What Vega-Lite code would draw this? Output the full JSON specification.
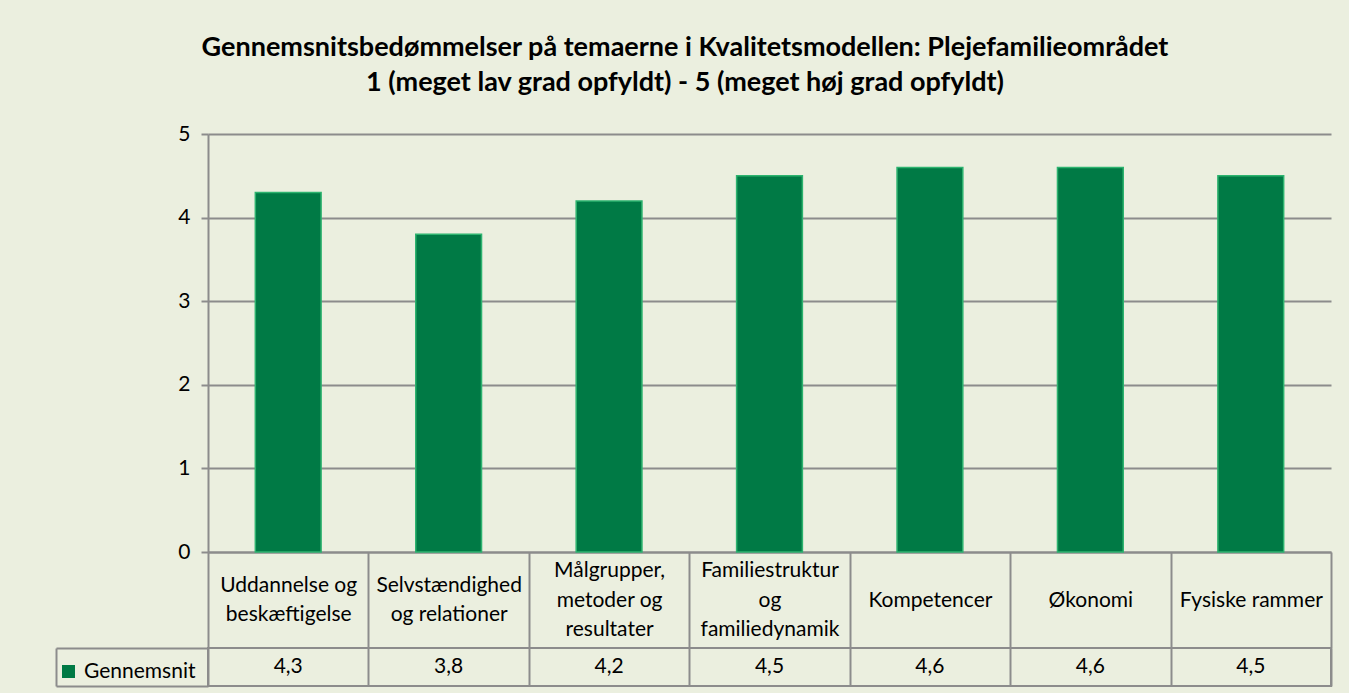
{
  "$schema": "https://vega.github.io/schema/vega-lite/v6.json",
  "background": "#EBEFDF",
  "autosize": {"type": "pad"},
  "padding": {"left": 54, "top": 34, "right": 19, "bottom": 6},
  "bounds": "flush",
  "spacing": 96,
  "config": {
    "locale": {"number": {"decimal": ",", "thousands": ".", "grouping": [3], "currency": ["", " kr."]}},
    "font": "Lato",
    "view": {"stroke": null}
  },
  "title": {
    "text": ["Gennemsnitsbedømmelser på temaerne i Kvalitetsmodellen: Plejefamilieområdet", "1 (meget lav grad opfyldt) - 5 (meget høj grad opfyldt)"],
    "font": "Lato",
    "fontSize": 27,
    "fontWeight": "bold",
    "color": "#000000",
    "anchor": "middle",
    "lineHeight": 35,
    "offset": 26,
    "dx": -8
  },
  "data": {
    "values": [
      {"tema": "Uddannelse og|beskæftigelse", "serie": "Gennemsnit", "vaerdi": 4.3},
      {"tema": "Selvstændighed|og relationer", "serie": "Gennemsnit", "vaerdi": 3.8},
      {"tema": "Målgrupper,|metoder og|resultater", "serie": "Gennemsnit", "vaerdi": 4.2},
      {"tema": "Familiestruktur|og|familiedynamik", "serie": "Gennemsnit", "vaerdi": 4.5},
      {"tema": "Kompetencer", "serie": "Gennemsnit", "vaerdi": 4.6},
      {"tema": "Økonomi", "serie": "Gennemsnit", "vaerdi": 4.6},
      {"tema": "Fysiske rammer", "serie": "Gennemsnit", "vaerdi": 4.5}
    ]
  },
  "vconcat": [
    {
      "width": 1123,
      "height": 418,
      "mark": {"type": "bar", "width": {"band": 0.41}, "stroke": "#2DB36F", "strokeWidth": 1.5},
      "encoding": {
        "x": {
          "field": "tema", "type": "nominal", "sort": null,
          "scale": {"paddingInner": 0, "paddingOuter": 0},
          "axis": {
            "title": null, "labelAngle": 0, "labelExpr": "split(datum.label, '|')",
            "labelBaseline": "middle", "labelAlign": "center",
            "labelPadding": {"expr": "-48 - 14.75 * (length(split(datum.label, '|')) - 1)"},
            "labelFontSize": 21, "labelLineHeight": 29.5, "labelColor": "#000000", "labelLimit": 200,
            "tickBand": "extent", "tickSize": 96, "tickColor": "#8C8C8C", "tickWidth": 2,
            "domainColor": "#8C8C8C", "domainWidth": 2
          }
        },
        "y": {
          "field": "vaerdi", "type": "quantitative",
          "scale": {"domain": [0, 5], "nice": false},
          "axis": {
            "title": null, "values": [0, 1, 2, 3, 4, 5], "format": "d",
            "grid": true, "gridColor": "#8C8C8C", "gridWidth": 2,
            "tickSize": 7, "tickColor": "#8C8C8C", "tickWidth": 2,
            "domainColor": "#8C8C8C", "domainWidth": 2,
            "labelFontSize": 21, "labelPadding": 11, "labelColor": "#000000"
          }
        },
        "color": {
          "field": "serie", "type": "nominal",
          "scale": {"range": ["#007A45"]},
          "legend": {
            "orient": "none", "legendX": -150, "legendY": 527, "title": null,
            "symbolType": "square", "symbolSize": 170, "symbolStrokeWidth": 0,
            "labelFontSize": 21, "labelColor": "#000000", "labelOffset": 5
          }
        }
      }
    },
    {
      "width": 1123,
      "height": 38,
      "view": {"stroke": "#8C8C8C", "strokeWidth": 2},
      "mark": {"type": "text", "fontSize": 21, "color": "#000000", "font": "Lato"},
      "encoding": {
        "x": {
          "field": "tema", "type": "nominal", "sort": null,
          "scale": {"paddingInner": 0, "paddingOuter": 0},
          "axis": {
            "title": null, "labels": false, "ticks": false, "domain": false,
            "grid": true, "tickBand": "extent", "gridColor": "#8C8C8C", "gridWidth": 2
          }
        },
        "y": {
          "field": "serie", "type": "nominal",
          "scale": {"paddingInner": 0, "paddingOuter": 0},
          "axis": {
            "title": null, "labels": false, "offset": 152,
            "domain": true, "domainColor": "#8C8C8C", "domainWidth": 2,
            "ticks": true, "tickBand": "extent", "tickSize": -152, "tickColor": "#8C8C8C", "tickWidth": 2
          }
        },
        "text": {"field": "vaerdi", "type": "quantitative", "format": ".1f"}
      }
    }
  ]
}
